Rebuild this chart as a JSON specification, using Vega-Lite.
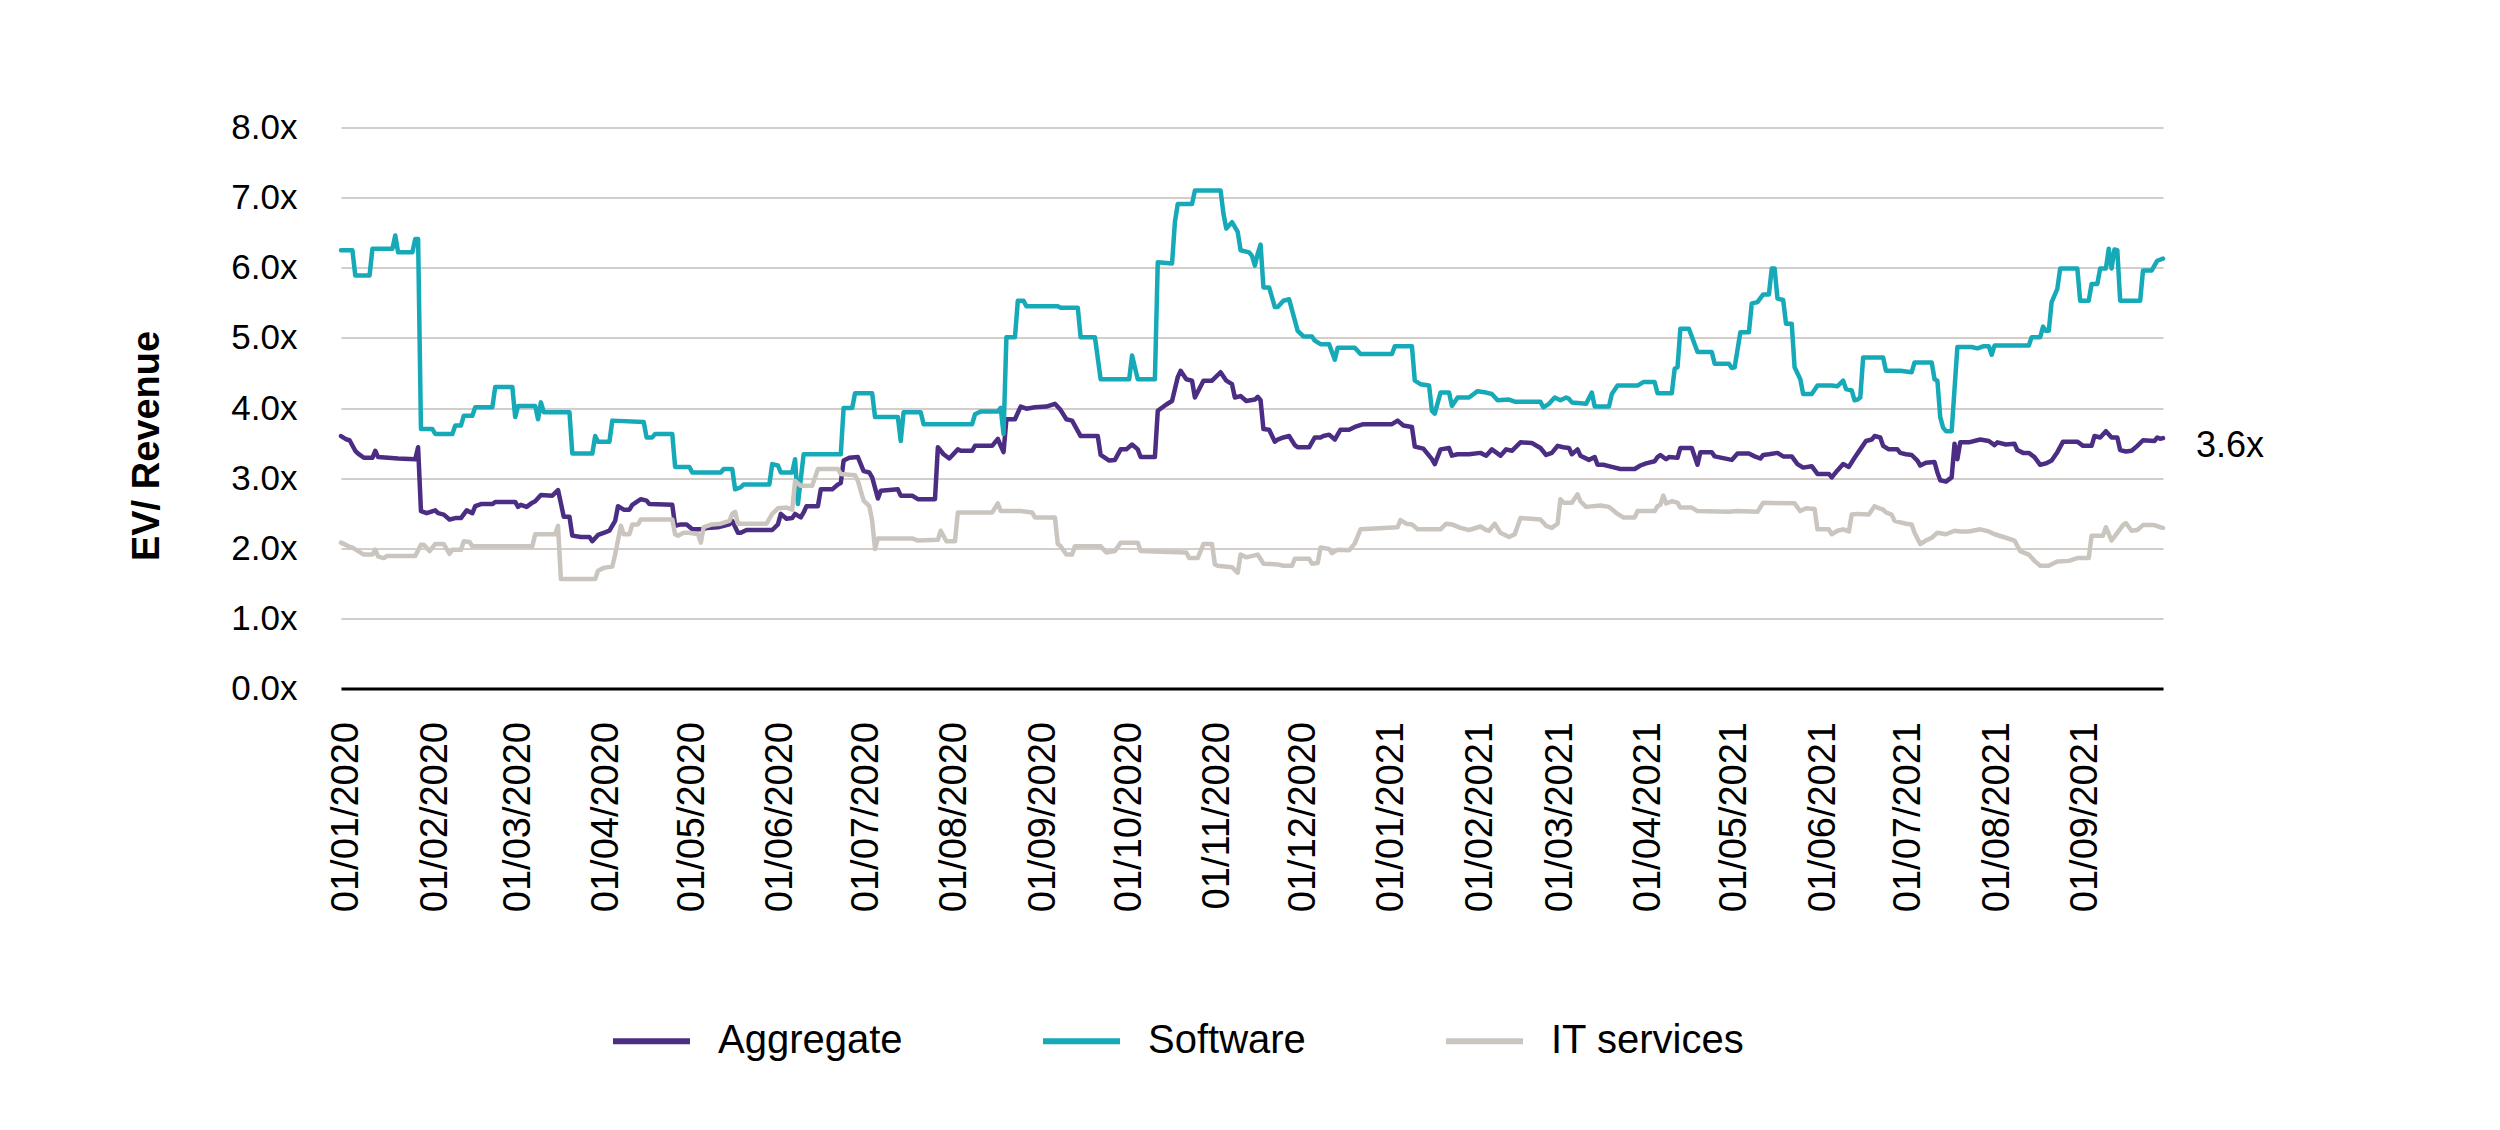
{
  "$schema": "https://vega.github.io/schema/vega-lite/v6.json",
  "width": 1822,
  "height": 561,
  "autosize": {"type": "none"},
  "padding": {"left": 341, "top": 127.5, "right": 337, "bottom": 441.5},
  "background": "white",
  "config": {"view": {"stroke": null}, "font": "Liberation Sans"},
  "datasets": {
    "series": [
      {"series":"Aggregate","d":"2019-12-30","v":3.60},{"series":"Aggregate","d":"2020-01-01","v":3.55},{"series":"Aggregate","d":"2020-01-02","v":3.54},{"series":"Aggregate","d":"2020-01-04","v":3.39},{"series":"Aggregate","d":"2020-01-05","v":3.35},{"series":"Aggregate","d":"2020-01-07","v":3.29},{"series":"Aggregate","d":"2020-01-10","v":3.29},{"series":"Aggregate","d":"2020-01-11","v":3.39},{"series":"Aggregate","d":"2020-01-12","v":3.30},{"series":"Aggregate","d":"2020-01-19","v":3.28},{"series":"Aggregate","d":"2020-01-25","v":3.27},{"series":"Aggregate","d":"2020-01-26","v":3.44},{"series":"Aggregate","d":"2020-01-27","v":2.53},{"series":"Aggregate","d":"2020-01-29","v":2.50},{"series":"Aggregate","d":"2020-02-01","v":2.54},{"series":"Aggregate","d":"2020-02-02","v":2.50},{"series":"Aggregate","d":"2020-02-04","v":2.48},{"series":"Aggregate","d":"2020-02-06","v":2.41},{"series":"Aggregate","d":"2020-02-08","v":2.43},{"series":"Aggregate","d":"2020-02-10","v":2.43},{"series":"Aggregate","d":"2020-02-12","v":2.54},{"series":"Aggregate","d":"2020-02-14","v":2.50},{"series":"Aggregate","d":"2020-02-15","v":2.60},{"series":"Aggregate","d":"2020-02-17","v":2.63},{"series":"Aggregate","d":"2020-02-21","v":2.63},{"series":"Aggregate","d":"2020-02-22","v":2.66},{"series":"Aggregate","d":"2020-02-29","v":2.66},{"series":"Aggregate","d":"2020-03-01","v":2.59},{"series":"Aggregate","d":"2020-03-02","v":2.62},{"series":"Aggregate","d":"2020-03-04","v":2.59},{"series":"Aggregate","d":"2020-03-06","v":2.65},{"series":"Aggregate","d":"2020-03-07","v":2.67},{"series":"Aggregate","d":"2020-03-09","v":2.76},{"series":"Aggregate","d":"2020-03-13","v":2.75},{"series":"Aggregate","d":"2020-03-15","v":2.83},{"series":"Aggregate","d":"2020-03-17","v":2.45},{"series":"Aggregate","d":"2020-03-19","v":2.45},{"series":"Aggregate","d":"2020-03-20","v":2.18},{"series":"Aggregate","d":"2020-03-23","v":2.16},{"series":"Aggregate","d":"2020-03-26","v":2.16},{"series":"Aggregate","d":"2020-03-27","v":2.10},{"series":"Aggregate","d":"2020-03-29","v":2.19},{"series":"Aggregate","d":"2020-03-31","v":2.22},{"series":"Aggregate","d":"2020-04-02","v":2.25},{"series":"Aggregate","d":"2020-04-04","v":2.39},{"series":"Aggregate","d":"2020-04-05","v":2.60},{"series":"Aggregate","d":"2020-04-07","v":2.55},{"series":"Aggregate","d":"2020-04-09","v":2.55},{"series":"Aggregate","d":"2020-04-10","v":2.62},{"series":"Aggregate","d":"2020-04-13","v":2.70},{"series":"Aggregate","d":"2020-04-15","v":2.68},{"series":"Aggregate","d":"2020-04-16","v":2.63},{"series":"Aggregate","d":"2020-04-24","v":2.62},{"series":"Aggregate","d":"2020-04-25","v":2.32},{"series":"Aggregate","d":"2020-04-27","v":2.34},{"series":"Aggregate","d":"2020-04-29","v":2.34},{"series":"Aggregate","d":"2020-05-01","v":2.27},{"series":"Aggregate","d":"2020-05-05","v":2.27},{"series":"Aggregate","d":"2020-05-06","v":2.29},{"series":"Aggregate","d":"2020-05-10","v":2.30},{"series":"Aggregate","d":"2020-05-12","v":2.32},{"series":"Aggregate","d":"2020-05-14","v":2.34},{"series":"Aggregate","d":"2020-05-15","v":2.39},{"series":"Aggregate","d":"2020-05-17","v":2.22},{"series":"Aggregate","d":"2020-05-18","v":2.22},{"series":"Aggregate","d":"2020-05-20","v":2.26},{"series":"Aggregate","d":"2020-05-29","v":2.26},{"series":"Aggregate","d":"2020-05-31","v":2.34},{"series":"Aggregate","d":"2020-06-01","v":2.49},{"series":"Aggregate","d":"2020-06-03","v":2.42},{"series":"Aggregate","d":"2020-06-05","v":2.43},{"series":"Aggregate","d":"2020-06-06","v":2.49},{"series":"Aggregate","d":"2020-06-08","v":2.44},{"series":"Aggregate","d":"2020-06-09","v":2.51},{"series":"Aggregate","d":"2020-06-10","v":2.60},{"series":"Aggregate","d":"2020-06-14","v":2.60},{"series":"Aggregate","d":"2020-06-15","v":2.84},{"series":"Aggregate","d":"2020-06-19","v":2.84},{"series":"Aggregate","d":"2020-06-21","v":2.91},{"series":"Aggregate","d":"2020-06-22","v":2.93},{"series":"Aggregate","d":"2020-06-23","v":3.25},{"series":"Aggregate","d":"2020-06-25","v":3.29},{"series":"Aggregate","d":"2020-06-28","v":3.30},{"series":"Aggregate","d":"2020-06-30","v":3.10},{"series":"Aggregate","d":"2020-07-02","v":3.08},{"series":"Aggregate","d":"2020-07-03","v":3.01},{"series":"Aggregate","d":"2020-07-05","v":2.71},{"series":"Aggregate","d":"2020-07-06","v":2.82},{"series":"Aggregate","d":"2020-07-12","v":2.84},{"series":"Aggregate","d":"2020-07-13","v":2.75},{"series":"Aggregate","d":"2020-07-17","v":2.75},{"series":"Aggregate","d":"2020-07-19","v":2.70},{"series":"Aggregate","d":"2020-07-25","v":2.70},{"series":"Aggregate","d":"2020-07-26","v":3.44},{"series":"Aggregate","d":"2020-07-28","v":3.34},{"series":"Aggregate","d":"2020-07-30","v":3.28},{"series":"Aggregate","d":"2020-08-02","v":3.41},{"series":"Aggregate","d":"2020-08-03","v":3.39},{"series":"Aggregate","d":"2020-08-07","v":3.39},{"series":"Aggregate","d":"2020-08-08","v":3.46},{"series":"Aggregate","d":"2020-08-14","v":3.46},{"series":"Aggregate","d":"2020-08-16","v":3.56},{"series":"Aggregate","d":"2020-08-17","v":3.46},{"series":"Aggregate","d":"2020-08-18","v":3.37},{"series":"Aggregate","d":"2020-08-19","v":3.84},{"series":"Aggregate","d":"2020-08-22","v":3.84},{"series":"Aggregate","d":"2020-08-24","v":4.02},{"series":"Aggregate","d":"2020-08-26","v":3.99},{"series":"Aggregate","d":"2020-08-29","v":4.01},{"series":"Aggregate","d":"2020-09-02","v":4.02},{"series":"Aggregate","d":"2020-09-05","v":4.06},{"series":"Aggregate","d":"2020-09-07","v":3.97},{"series":"Aggregate","d":"2020-09-09","v":3.84},{"series":"Aggregate","d":"2020-09-11","v":3.82},{"series":"Aggregate","d":"2020-09-14","v":3.60},{"series":"Aggregate","d":"2020-09-20","v":3.60},{"series":"Aggregate","d":"2020-09-21","v":3.33},{"series":"Aggregate","d":"2020-09-24","v":3.25},{"series":"Aggregate","d":"2020-09-26","v":3.26},{"series":"Aggregate","d":"2020-09-28","v":3.41},{"series":"Aggregate","d":"2020-09-30","v":3.41},{"series":"Aggregate","d":"2020-10-02","v":3.48},{"series":"Aggregate","d":"2020-10-04","v":3.41},{"series":"Aggregate","d":"2020-10-05","v":3.30},{"series":"Aggregate","d":"2020-10-10","v":3.30},{"series":"Aggregate","d":"2020-10-11","v":3.96},{"series":"Aggregate","d":"2020-10-14","v":4.05},{"series":"Aggregate","d":"2020-10-16","v":4.10},{"series":"Aggregate","d":"2020-10-18","v":4.44},{"series":"Aggregate","d":"2020-10-19","v":4.53},{"series":"Aggregate","d":"2020-10-21","v":4.41},{"series":"Aggregate","d":"2020-10-23","v":4.39},{"series":"Aggregate","d":"2020-10-24","v":4.15},{"series":"Aggregate","d":"2020-10-27","v":4.39},{"series":"Aggregate","d":"2020-10-30","v":4.39},{"series":"Aggregate","d":"2020-11-02","v":4.51},{"series":"Aggregate","d":"2020-11-04","v":4.39},{"series":"Aggregate","d":"2020-11-06","v":4.34},{"series":"Aggregate","d":"2020-11-07","v":4.15},{"series":"Aggregate","d":"2020-11-09","v":4.17},{"series":"Aggregate","d":"2020-11-11","v":4.10},{"series":"Aggregate","d":"2020-11-14","v":4.12},{"series":"Aggregate","d":"2020-11-15","v":4.16},{"series":"Aggregate","d":"2020-11-16","v":4.11},{"series":"Aggregate","d":"2020-11-17","v":3.70},{"series":"Aggregate","d":"2020-11-19","v":3.69},{"series":"Aggregate","d":"2020-11-21","v":3.52},{"series":"Aggregate","d":"2020-11-22","v":3.55},{"series":"Aggregate","d":"2020-11-24","v":3.58},{"series":"Aggregate","d":"2020-11-26","v":3.60},{"series":"Aggregate","d":"2020-11-28","v":3.47},{"series":"Aggregate","d":"2020-11-29","v":3.44},{"series":"Aggregate","d":"2020-12-03","v":3.44},{"series":"Aggregate","d":"2020-12-05","v":3.58},{"series":"Aggregate","d":"2020-12-07","v":3.58},{"series":"Aggregate","d":"2020-12-08","v":3.60},{"series":"Aggregate","d":"2020-12-10","v":3.62},{"series":"Aggregate","d":"2020-12-12","v":3.55},{"series":"Aggregate","d":"2020-12-14","v":3.69},{"series":"Aggregate","d":"2020-12-17","v":3.69},{"series":"Aggregate","d":"2020-12-19","v":3.73},{"series":"Aggregate","d":"2020-12-22","v":3.77},{"series":"Aggregate","d":"2021-01-01","v":3.77},{"series":"Aggregate","d":"2021-01-03","v":3.82},{"series":"Aggregate","d":"2021-01-05","v":3.75},{"series":"Aggregate","d":"2021-01-08","v":3.73},{"series":"Aggregate","d":"2021-01-09","v":3.45},{"series":"Aggregate","d":"2021-01-12","v":3.42},{"series":"Aggregate","d":"2021-01-15","v":3.27},{"series":"Aggregate","d":"2021-01-16","v":3.20},{"series":"Aggregate","d":"2021-01-18","v":3.41},{"series":"Aggregate","d":"2021-01-21","v":3.43},{"series":"Aggregate","d":"2021-01-22","v":3.32},{"series":"Aggregate","d":"2021-01-24","v":3.34},{"series":"Aggregate","d":"2021-01-28","v":3.34},{"series":"Aggregate","d":"2021-02-01","v":3.36},{"series":"Aggregate","d":"2021-02-03","v":3.32},{"series":"Aggregate","d":"2021-02-05","v":3.41},{"series":"Aggregate","d":"2021-02-08","v":3.32},{"series":"Aggregate","d":"2021-02-10","v":3.41},{"series":"Aggregate","d":"2021-02-12","v":3.39},{"series":"Aggregate","d":"2021-02-15","v":3.51},{"series":"Aggregate","d":"2021-02-19","v":3.50},{"series":"Aggregate","d":"2021-02-22","v":3.43},{"series":"Aggregate","d":"2021-02-24","v":3.33},{"series":"Aggregate","d":"2021-02-26","v":3.36},{"series":"Aggregate","d":"2021-02-28","v":3.46},{"series":"Aggregate","d":"2021-03-02","v":3.44},{"series":"Aggregate","d":"2021-03-04","v":3.43},{"series":"Aggregate","d":"2021-03-05","v":3.34},{"series":"Aggregate","d":"2021-03-07","v":3.41},{"series":"Aggregate","d":"2021-03-08","v":3.32},{"series":"Aggregate","d":"2021-03-11","v":3.26},{"series":"Aggregate","d":"2021-03-13","v":3.30},{"series":"Aggregate","d":"2021-03-14","v":3.19},{"series":"Aggregate","d":"2021-03-16","v":3.19},{"series":"Aggregate","d":"2021-03-19","v":3.16},{"series":"Aggregate","d":"2021-03-22","v":3.13},{"series":"Aggregate","d":"2021-03-27","v":3.13},{"series":"Aggregate","d":"2021-03-29","v":3.18},{"series":"Aggregate","d":"2021-03-31","v":3.21},{"series":"Aggregate","d":"2021-04-03","v":3.24},{"series":"Aggregate","d":"2021-04-04","v":3.30},{"series":"Aggregate","d":"2021-04-05","v":3.33},{"series":"Aggregate","d":"2021-04-07","v":3.27},{"series":"Aggregate","d":"2021-04-08","v":3.30},{"series":"Aggregate","d":"2021-04-11","v":3.29},{"series":"Aggregate","d":"2021-04-12","v":3.43},{"series":"Aggregate","d":"2021-04-16","v":3.43},{"series":"Aggregate","d":"2021-04-18","v":3.19},{"series":"Aggregate","d":"2021-04-19","v":3.37},{"series":"Aggregate","d":"2021-04-23","v":3.37},{"series":"Aggregate","d":"2021-04-24","v":3.31},{"series":"Aggregate","d":"2021-04-30","v":3.26},{"series":"Aggregate","d":"2021-05-02","v":3.35},{"series":"Aggregate","d":"2021-05-06","v":3.35},{"series":"Aggregate","d":"2021-05-08","v":3.31},{"series":"Aggregate","d":"2021-05-10","v":3.28},{"series":"Aggregate","d":"2021-05-11","v":3.33},{"series":"Aggregate","d":"2021-05-13","v":3.34},{"series":"Aggregate","d":"2021-05-16","v":3.36},{"series":"Aggregate","d":"2021-05-18","v":3.31},{"series":"Aggregate","d":"2021-05-21","v":3.31},{"series":"Aggregate","d":"2021-05-23","v":3.20},{"series":"Aggregate","d":"2021-05-25","v":3.15},{"series":"Aggregate","d":"2021-05-28","v":3.17},{"series":"Aggregate","d":"2021-05-30","v":3.06},{"series":"Aggregate","d":"2021-06-03","v":3.06},{"series":"Aggregate","d":"2021-06-04","v":3.01},{"series":"Aggregate","d":"2021-06-06","v":3.11},{"series":"Aggregate","d":"2021-06-08","v":3.20},{"series":"Aggregate","d":"2021-06-10","v":3.16},{"series":"Aggregate","d":"2021-06-12","v":3.29},{"series":"Aggregate","d":"2021-06-14","v":3.41},{"series":"Aggregate","d":"2021-06-16","v":3.53},{"series":"Aggregate","d":"2021-06-18","v":3.55},{"series":"Aggregate","d":"2021-06-19","v":3.60},{"series":"Aggregate","d":"2021-06-21","v":3.58},{"series":"Aggregate","d":"2021-06-22","v":3.46},{"series":"Aggregate","d":"2021-06-24","v":3.41},{"series":"Aggregate","d":"2021-06-27","v":3.41},{"series":"Aggregate","d":"2021-06-28","v":3.36},{"series":"Aggregate","d":"2021-06-30","v":3.34},{"series":"Aggregate","d":"2021-07-02","v":3.33},{"series":"Aggregate","d":"2021-07-04","v":3.25},{"series":"Aggregate","d":"2021-07-05","v":3.18},{"series":"Aggregate","d":"2021-07-07","v":3.22},{"series":"Aggregate","d":"2021-07-10","v":3.23},{"series":"Aggregate","d":"2021-07-11","v":3.08},{"series":"Aggregate","d":"2021-07-12","v":2.97},{"series":"Aggregate","d":"2021-07-14","v":2.95},{"series":"Aggregate","d":"2021-07-16","v":3.01},{"series":"Aggregate","d":"2021-07-17","v":3.49},{"series":"Aggregate","d":"2021-07-18","v":3.27},{"series":"Aggregate","d":"2021-07-19","v":3.51},{"series":"Aggregate","d":"2021-07-22","v":3.51},{"series":"Aggregate","d":"2021-07-26","v":3.55},{"series":"Aggregate","d":"2021-07-29","v":3.53},{"series":"Aggregate","d":"2021-07-31","v":3.47},{"series":"Aggregate","d":"2021-08-01","v":3.51},{"series":"Aggregate","d":"2021-08-04","v":3.48},{"series":"Aggregate","d":"2021-08-07","v":3.49},{"series":"Aggregate","d":"2021-08-08","v":3.40},{"series":"Aggregate","d":"2021-08-10","v":3.36},{"series":"Aggregate","d":"2021-08-12","v":3.36},{"series":"Aggregate","d":"2021-08-14","v":3.30},{"series":"Aggregate","d":"2021-08-16","v":3.19},{"series":"Aggregate","d":"2021-08-18","v":3.21},{"series":"Aggregate","d":"2021-08-20","v":3.25},{"series":"Aggregate","d":"2021-08-22","v":3.37},{"series":"Aggregate","d":"2021-08-24","v":3.52},{"series":"Aggregate","d":"2021-08-29","v":3.52},{"series":"Aggregate","d":"2021-08-31","v":3.46},{"series":"Aggregate","d":"2021-09-03","v":3.46},{"series":"Aggregate","d":"2021-09-04","v":3.60},{"series":"Aggregate","d":"2021-09-06","v":3.58},{"series":"Aggregate","d":"2021-09-08","v":3.67},{"series":"Aggregate","d":"2021-09-10","v":3.58},{"series":"Aggregate","d":"2021-09-12","v":3.58},{"series":"Aggregate","d":"2021-09-13","v":3.40},{"series":"Aggregate","d":"2021-09-15","v":3.38},{"series":"Aggregate","d":"2021-09-17","v":3.39},{"series":"Aggregate","d":"2021-09-19","v":3.46},{"series":"Aggregate","d":"2021-09-21","v":3.54},{"series":"Aggregate","d":"2021-09-25","v":3.53},{"series":"Aggregate","d":"2021-09-26","v":3.58},{"series":"Aggregate","d":"2021-09-27","v":3.56},{"series":"Aggregate","d":"2021-09-28","v":3.57},

      {"series":"Software","d":"2019-12-30","v":6.25},{"series":"Software","d":"2020-01-03","v":6.25},{"series":"Software","d":"2020-01-04","v":5.89},{"series":"Software","d":"2020-01-09","v":5.89},{"series":"Software","d":"2020-01-10","v":6.27},{"series":"Software","d":"2020-01-17","v":6.27},{"series":"Software","d":"2020-01-18","v":6.46},{"series":"Software","d":"2020-01-19","v":6.22},{"series":"Software","d":"2020-01-24","v":6.22},{"series":"Software","d":"2020-01-25","v":6.41},{"series":"Software","d":"2020-01-26","v":6.41},{"series":"Software","d":"2020-01-27","v":3.70},{"series":"Software","d":"2020-01-31","v":3.70},{"series":"Software","d":"2020-02-01","v":3.63},{"series":"Software","d":"2020-02-07","v":3.63},{"series":"Software","d":"2020-02-08","v":3.75},{"series":"Software","d":"2020-02-10","v":3.75},{"series":"Software","d":"2020-02-11","v":3.89},{"series":"Software","d":"2020-02-14","v":3.89},{"series":"Software","d":"2020-02-15","v":4.01},{"series":"Software","d":"2020-02-21","v":4.01},{"series":"Software","d":"2020-02-22","v":4.30},{"series":"Software","d":"2020-02-28","v":4.30},{"series":"Software","d":"2020-02-29","v":3.87},{"series":"Software","d":"2020-03-01","v":4.03},{"series":"Software","d":"2020-03-07","v":4.03},{"series":"Software","d":"2020-03-08","v":3.84},{"series":"Software","d":"2020-03-09","v":4.08},{"series":"Software","d":"2020-03-10","v":3.94},{"series":"Software","d":"2020-03-19","v":3.94},{"series":"Software","d":"2020-03-20","v":3.35},{"series":"Software","d":"2020-03-27","v":3.35},{"series":"Software","d":"2020-03-28","v":3.60},{"series":"Software","d":"2020-03-29","v":3.52},{"series":"Software","d":"2020-04-02","v":3.52},{"series":"Software","d":"2020-04-03","v":3.82},{"series":"Software","d":"2020-04-14","v":3.80},{"series":"Software","d":"2020-04-15","v":3.58},{"series":"Software","d":"2020-04-17","v":3.58},{"series":"Software","d":"2020-04-18","v":3.63},{"series":"Software","d":"2020-04-24","v":3.63},{"series":"Software","d":"2020-04-25","v":3.16},{"series":"Software","d":"2020-04-30","v":3.16},{"series":"Software","d":"2020-05-01","v":3.08},{"series":"Software","d":"2020-05-11","v":3.08},{"series":"Software","d":"2020-05-12","v":3.13},{"series":"Software","d":"2020-05-15","v":3.13},{"series":"Software","d":"2020-05-16","v":2.84},{"series":"Software","d":"2020-05-18","v":2.87},{"series":"Software","d":"2020-05-19","v":2.91},{"series":"Software","d":"2020-05-28","v":2.91},{"series":"Software","d":"2020-05-29","v":3.20},{"series":"Software","d":"2020-05-31","v":3.18},{"series":"Software","d":"2020-06-01","v":3.08},{"series":"Software","d":"2020-06-05","v":3.08},{"series":"Software","d":"2020-06-06","v":3.27},{"series":"Software","d":"2020-06-07","v":2.63},{"series":"Software","d":"2020-06-09","v":3.34},{"series":"Software","d":"2020-06-22","v":3.34},{"series":"Software","d":"2020-06-23","v":4.00},{"series":"Software","d":"2020-06-26","v":4.00},{"series":"Software","d":"2020-06-27","v":4.21},{"series":"Software","d":"2020-07-03","v":4.21},{"series":"Software","d":"2020-07-04","v":3.87},{"series":"Software","d":"2020-07-12","v":3.87},{"series":"Software","d":"2020-07-13","v":3.53},{"series":"Software","d":"2020-07-14","v":3.94},{"series":"Software","d":"2020-07-20","v":3.94},{"series":"Software","d":"2020-07-21","v":3.77},{"series":"Software","d":"2020-08-07","v":3.77},{"series":"Software","d":"2020-08-08","v":3.91},{"series":"Software","d":"2020-08-10","v":3.95},{"series":"Software","d":"2020-08-16","v":3.95},{"series":"Software","d":"2020-08-17","v":4.00},{"series":"Software","d":"2020-08-18","v":3.63},{"series":"Software","d":"2020-08-19","v":5.01},{"series":"Software","d":"2020-08-22","v":5.01},{"series":"Software","d":"2020-08-23","v":5.53},{"series":"Software","d":"2020-08-25","v":5.53},{"series":"Software","d":"2020-08-26","v":5.45},{"series":"Software","d":"2020-09-06","v":5.45},{"series":"Software","d":"2020-09-07","v":5.43},{"series":"Software","d":"2020-09-13","v":5.43},{"series":"Software","d":"2020-09-14","v":5.01},{"series":"Software","d":"2020-09-19","v":5.01},{"series":"Software","d":"2020-09-21","v":4.41},{"series":"Software","d":"2020-10-01","v":4.41},{"series":"Software","d":"2020-10-02","v":4.75},{"series":"Software","d":"2020-10-04","v":4.41},{"series":"Software","d":"2020-10-10","v":4.41},{"series":"Software","d":"2020-10-11","v":6.08},{"series":"Software","d":"2020-10-16","v":6.06},{"series":"Software","d":"2020-10-17","v":6.65},{"series":"Software","d":"2020-10-18","v":6.91},{"series":"Software","d":"2020-10-23","v":6.91},{"series":"Software","d":"2020-10-24","v":7.10},{"series":"Software","d":"2020-11-02","v":7.10},{"series":"Software","d":"2020-11-03","v":6.77},{"series":"Software","d":"2020-11-04","v":6.56},{"series":"Software","d":"2020-11-06","v":6.65},{"series":"Software","d":"2020-11-08","v":6.51},{"series":"Software","d":"2020-11-09","v":6.25},{"series":"Software","d":"2020-11-12","v":6.22},{"series":"Software","d":"2020-11-13","v":6.17},{"series":"Software","d":"2020-11-14","v":6.03},{"series":"Software","d":"2020-11-15","v":6.20},{"series":"Software","d":"2020-11-16","v":6.33},{"series":"Software","d":"2020-11-17","v":5.72},{"series":"Software","d":"2020-11-19","v":5.72},{"series":"Software","d":"2020-11-21","v":5.44},{"series":"Software","d":"2020-11-22","v":5.44},{"series":"Software","d":"2020-11-24","v":5.53},{"series":"Software","d":"2020-11-26","v":5.55},{"series":"Software","d":"2020-11-28","v":5.25},{"series":"Software","d":"2020-11-29","v":5.10},{"series":"Software","d":"2020-12-01","v":5.02},{"series":"Software","d":"2020-12-04","v":5.02},{"series":"Software","d":"2020-12-05","v":4.96},{"series":"Software","d":"2020-12-07","v":4.91},{"series":"Software","d":"2020-12-10","v":4.91},{"series":"Software","d":"2020-12-12","v":4.69},{"series":"Software","d":"2020-12-13","v":4.86},{"series":"Software","d":"2020-12-19","v":4.86},{"series":"Software","d":"2020-12-21","v":4.77},{"series":"Software","d":"2021-01-01","v":4.77},{"series":"Software","d":"2021-01-02","v":4.88},{"series":"Software","d":"2021-01-08","v":4.88},{"series":"Software","d":"2021-01-09","v":4.39},{"series":"Software","d":"2021-01-11","v":4.34},{"series":"Software","d":"2021-01-14","v":4.32},{"series":"Software","d":"2021-01-15","v":3.96},{"series":"Software","d":"2021-01-16","v":3.92},{"series":"Software","d":"2021-01-18","v":4.22},{"series":"Software","d":"2021-01-21","v":4.22},{"series":"Software","d":"2021-01-22","v":4.03},{"series":"Software","d":"2021-01-24","v":4.15},{"series":"Software","d":"2021-01-28","v":4.15},{"series":"Software","d":"2021-01-31","v":4.24},{"series":"Software","d":"2021-02-03","v":4.22},{"series":"Software","d":"2021-02-05","v":4.20},{"series":"Software","d":"2021-02-07","v":4.11},{"series":"Software","d":"2021-02-11","v":4.12},{"series":"Software","d":"2021-02-13","v":4.09},{"series":"Software","d":"2021-02-22","v":4.09},{"series":"Software","d":"2021-02-23","v":4.01},{"series":"Software","d":"2021-02-25","v":4.06},{"series":"Software","d":"2021-02-27","v":4.15},{"series":"Software","d":"2021-03-01","v":4.11},{"series":"Software","d":"2021-03-03","v":4.15},{"series":"Software","d":"2021-03-04","v":4.13},{"series":"Software","d":"2021-03-05","v":4.08},{"series":"Software","d":"2021-03-10","v":4.06},{"series":"Software","d":"2021-03-12","v":4.22},{"series":"Software","d":"2021-03-13","v":4.02},{"series":"Software","d":"2021-03-18","v":4.02},{"series":"Software","d":"2021-03-19","v":4.20},{"series":"Software","d":"2021-03-21","v":4.32},{"series":"Software","d":"2021-03-28","v":4.32},{"series":"Software","d":"2021-03-30","v":4.37},{"series":"Software","d":"2021-04-03","v":4.37},{"series":"Software","d":"2021-04-04","v":4.21},{"series":"Software","d":"2021-04-09","v":4.21},{"series":"Software","d":"2021-04-10","v":4.56},{"series":"Software","d":"2021-04-11","v":4.58},{"series":"Software","d":"2021-04-12","v":5.13},{"series":"Software","d":"2021-04-15","v":5.13},{"series":"Software","d":"2021-04-17","v":4.91},{"series":"Software","d":"2021-04-18","v":4.80},{"series":"Software","d":"2021-04-23","v":4.80},{"series":"Software","d":"2021-04-24","v":4.63},{"series":"Software","d":"2021-04-29","v":4.63},{"series":"Software","d":"2021-04-30","v":4.57},{"series":"Software","d":"2021-05-01","v":4.58},{"series":"Software","d":"2021-05-03","v":5.08},{"series":"Software","d":"2021-05-06","v":5.08},{"series":"Software","d":"2021-05-07","v":5.49},{"series":"Software","d":"2021-05-09","v":5.51},{"series":"Software","d":"2021-05-11","v":5.62},{"series":"Software","d":"2021-05-13","v":5.62},{"series":"Software","d":"2021-05-14","v":5.99},{"series":"Software","d":"2021-05-15","v":5.99},{"series":"Software","d":"2021-05-16","v":5.56},{"series":"Software","d":"2021-05-18","v":5.54},{"series":"Software","d":"2021-05-19","v":5.20},{"series":"Software","d":"2021-05-21","v":5.20},{"series":"Software","d":"2021-05-22","v":4.58},{"series":"Software","d":"2021-05-24","v":4.41},{"series":"Software","d":"2021-05-25","v":4.20},{"series":"Software","d":"2021-05-28","v":4.20},{"series":"Software","d":"2021-05-30","v":4.32},{"series":"Software","d":"2021-06-04","v":4.32},{"series":"Software","d":"2021-06-06","v":4.31},{"series":"Software","d":"2021-06-08","v":4.39},{"series":"Software","d":"2021-06-09","v":4.27},{"series":"Software","d":"2021-06-11","v":4.25},{"series":"Software","d":"2021-06-12","v":4.11},{"series":"Software","d":"2021-06-13","v":4.12},{"series":"Software","d":"2021-06-14","v":4.15},{"series":"Software","d":"2021-06-15","v":4.72},{"series":"Software","d":"2021-06-22","v":4.72},{"series":"Software","d":"2021-06-23","v":4.53},{"series":"Software","d":"2021-06-28","v":4.53},{"series":"Software","d":"2021-07-02","v":4.51},{"series":"Software","d":"2021-07-03","v":4.65},{"series":"Software","d":"2021-07-09","v":4.65},{"series":"Software","d":"2021-07-10","v":4.41},{"series":"Software","d":"2021-07-11","v":4.39},{"series":"Software","d":"2021-07-12","v":3.87},{"series":"Software","d":"2021-07-13","v":3.72},{"series":"Software","d":"2021-07-14","v":3.67},{"series":"Software","d":"2021-07-16","v":3.67},{"series":"Software","d":"2021-07-18","v":4.87},{"series":"Software","d":"2021-07-23","v":4.87},{"series":"Software","d":"2021-07-25","v":4.85},{"series":"Software","d":"2021-07-27","v":4.88},{"series":"Software","d":"2021-07-29","v":4.88},{"series":"Software","d":"2021-07-30","v":4.76},{"series":"Software","d":"2021-07-31","v":4.89},{"series":"Software","d":"2021-08-12","v":4.89},{"series":"Software","d":"2021-08-13","v":5.01},{"series":"Software","d":"2021-08-16","v":5.01},{"series":"Software","d":"2021-08-17","v":5.16},{"series":"Software","d":"2021-08-18","v":5.10},{"series":"Software","d":"2021-08-19","v":5.10},{"series":"Software","d":"2021-08-20","v":5.51},{"series":"Software","d":"2021-08-22","v":5.70},{"series":"Software","d":"2021-08-23","v":5.99},{"series":"Software","d":"2021-08-29","v":5.99},{"series":"Software","d":"2021-08-30","v":5.53},{"series":"Software","d":"2021-09-02","v":5.53},{"series":"Software","d":"2021-09-03","v":5.77},{"series":"Software","d":"2021-09-05","v":5.77},{"series":"Software","d":"2021-09-06","v":5.99},{"series":"Software","d":"2021-09-08","v":5.99},{"series":"Software","d":"2021-09-09","v":6.27},{"series":"Software","d":"2021-09-10","v":5.99},{"series":"Software","d":"2021-09-11","v":6.26},{"series":"Software","d":"2021-09-12","v":6.25},{"series":"Software","d":"2021-09-13","v":5.53},{"series":"Software","d":"2021-09-20","v":5.53},{"series":"Software","d":"2021-09-21","v":5.96},{"series":"Software","d":"2021-09-24","v":5.96},{"series":"Software","d":"2021-09-26","v":6.10},{"series":"Software","d":"2021-09-28","v":6.13},

      {"series":"IT services","d":"2019-12-30","v":2.08},{"series":"IT services","d":"2020-01-02","v":2.02},{"series":"IT services","d":"2020-01-03","v":2.01},{"series":"IT services","d":"2020-01-05","v":1.96},{"series":"IT services","d":"2020-01-07","v":1.91},{"series":"IT services","d":"2020-01-10","v":1.91},{"series":"IT services","d":"2020-01-11","v":1.98},{"series":"IT services","d":"2020-01-12","v":1.88},{"series":"IT services","d":"2020-01-14","v":1.86},{"series":"IT services","d":"2020-01-15","v":1.89},{"series":"IT services","d":"2020-01-25","v":1.89},{"series":"IT services","d":"2020-01-27","v":2.05},{"series":"IT services","d":"2020-01-28","v":2.05},{"series":"IT services","d":"2020-01-30","v":1.96},{"series":"IT services","d":"2020-02-01","v":2.06},{"series":"IT services","d":"2020-02-04","v":2.06},{"series":"IT services","d":"2020-02-06","v":1.92},{"series":"IT services","d":"2020-02-07","v":1.98},{"series":"IT services","d":"2020-02-10","v":1.98},{"series":"IT services","d":"2020-02-11","v":2.10},{"series":"IT services","d":"2020-02-13","v":2.09},{"series":"IT services","d":"2020-02-14","v":2.03},{"series":"IT services","d":"2020-03-06","v":2.03},{"series":"IT services","d":"2020-03-07","v":2.20},{"series":"IT services","d":"2020-03-14","v":2.20},{"series":"IT services","d":"2020-03-15","v":2.32},{"series":"IT services","d":"2020-03-16","v":1.56},{"series":"IT services","d":"2020-03-28","v":1.56},{"series":"IT services","d":"2020-03-29","v":1.68},{"series":"IT services","d":"2020-03-31","v":1.72},{"series":"IT services","d":"2020-04-03","v":1.74},{"series":"IT services","d":"2020-04-04","v":1.91},{"series":"IT services","d":"2020-04-06","v":2.32},{"series":"IT services","d":"2020-04-07","v":2.20},{"series":"IT services","d":"2020-04-09","v":2.20},{"series":"IT services","d":"2020-04-10","v":2.34},{"series":"IT services","d":"2020-04-12","v":2.34},{"series":"IT services","d":"2020-04-13","v":2.41},{"series":"IT services","d":"2020-04-24","v":2.41},{"series":"IT services","d":"2020-04-25","v":2.20},{"series":"IT services","d":"2020-04-26","v":2.18},{"series":"IT services","d":"2020-04-28","v":2.22},{"series":"IT services","d":"2020-04-30","v":2.22},{"series":"IT services","d":"2020-05-03","v":2.20},{"series":"IT services","d":"2020-05-04","v":2.08},{"series":"IT services","d":"2020-05-05","v":2.30},{"series":"IT services","d":"2020-05-08","v":2.34},{"series":"IT services","d":"2020-05-11","v":2.35},{"series":"IT services","d":"2020-05-14","v":2.39},{"series":"IT services","d":"2020-05-15","v":2.49},{"series":"IT services","d":"2020-05-16","v":2.52},{"series":"IT services","d":"2020-05-17","v":2.35},{"series":"IT services","d":"2020-05-27","v":2.35},{"series":"IT services","d":"2020-05-29","v":2.49},{"series":"IT services","d":"2020-05-31","v":2.57},{"series":"IT services","d":"2020-06-03","v":2.58},{"series":"IT services","d":"2020-06-05","v":2.55},{"series":"IT services","d":"2020-06-06","v":2.96},{"series":"IT services","d":"2020-06-08","v":2.89},{"series":"IT services","d":"2020-06-12","v":2.89},{"series":"IT services","d":"2020-06-14","v":3.13},{"series":"IT services","d":"2020-06-21","v":3.13},{"series":"IT services","d":"2020-06-22","v":3.06},{"series":"IT services","d":"2020-06-27","v":3.04},{"series":"IT services","d":"2020-06-28","v":2.96},{"series":"IT services","d":"2020-06-30","v":2.68},{"series":"IT services","d":"2020-07-02","v":2.60},{"series":"IT services","d":"2020-07-03","v":2.39},{"series":"IT services","d":"2020-07-04","v":1.99},{"series":"IT services","d":"2020-07-05","v":2.14},{"series":"IT services","d":"2020-07-17","v":2.14},{"series":"IT services","d":"2020-07-19","v":2.11},{"series":"IT services","d":"2020-07-26","v":2.12},{"series":"IT services","d":"2020-07-27","v":2.25},{"series":"IT services","d":"2020-07-29","v":2.10},{"series":"IT services","d":"2020-08-01","v":2.10},{"series":"IT services","d":"2020-08-02","v":2.51},{"series":"IT services","d":"2020-08-14","v":2.51},{"series":"IT services","d":"2020-08-16","v":2.64},{"series":"IT services","d":"2020-08-17","v":2.53},{"series":"IT services","d":"2020-08-24","v":2.53},{"series":"IT services","d":"2020-08-28","v":2.51},{"series":"IT services","d":"2020-08-29","v":2.44},{"series":"IT services","d":"2020-09-05","v":2.44},{"series":"IT services","d":"2020-09-06","v":2.06},{"series":"IT services","d":"2020-09-07","v":2.03},{"series":"IT services","d":"2020-09-09","v":1.91},{"series":"IT services","d":"2020-09-11","v":1.91},{"series":"IT services","d":"2020-09-12","v":2.03},{"series":"IT services","d":"2020-09-21","v":2.03},{"series":"IT services","d":"2020-09-23","v":1.94},{"series":"IT services","d":"2020-09-26","v":1.96},{"series":"IT services","d":"2020-09-28","v":2.08},{"series":"IT services","d":"2020-10-04","v":2.08},{"series":"IT services","d":"2020-10-05","v":1.96},{"series":"IT services","d":"2020-10-12","v":1.95},{"series":"IT services","d":"2020-10-21","v":1.94},{"series":"IT services","d":"2020-10-22","v":1.86},{"series":"IT services","d":"2020-10-25","v":1.86},{"series":"IT services","d":"2020-10-27","v":2.06},{"series":"IT services","d":"2020-10-30","v":2.06},{"series":"IT services","d":"2020-10-31","v":1.77},{"series":"IT services","d":"2020-11-01","v":1.75},{"series":"IT services","d":"2020-11-06","v":1.73},{"series":"IT services","d":"2020-11-08","v":1.65},{"series":"IT services","d":"2020-11-09","v":1.91},{"series":"IT services","d":"2020-11-11","v":1.87},{"series":"IT services","d":"2020-11-15","v":1.91},{"series":"IT services","d":"2020-11-17","v":1.78},{"series":"IT services","d":"2020-11-22","v":1.77},{"series":"IT services","d":"2020-11-24","v":1.75},{"series":"IT services","d":"2020-11-27","v":1.75},{"series":"IT services","d":"2020-11-28","v":1.85},{"series":"IT services","d":"2020-12-03","v":1.85},{"series":"IT services","d":"2020-12-04","v":1.78},{"series":"IT services","d":"2020-12-06","v":1.79},{"series":"IT services","d":"2020-12-07","v":2.01},{"series":"IT services","d":"2020-12-10","v":1.99},{"series":"IT services","d":"2020-12-11","v":1.93},{"series":"IT services","d":"2020-12-13","v":1.98},{"series":"IT services","d":"2020-12-17","v":1.97},{"series":"IT services","d":"2020-12-19","v":2.07},{"series":"IT services","d":"2020-12-21","v":2.27},{"series":"IT services","d":"2021-01-03","v":2.30},{"series":"IT services","d":"2021-01-04","v":2.40},{"series":"IT services","d":"2021-01-06","v":2.35},{"series":"IT services","d":"2021-01-08","v":2.34},{"series":"IT services","d":"2021-01-10","v":2.27},{"series":"IT services","d":"2021-01-18","v":2.27},{"series":"IT services","d":"2021-01-20","v":2.35},{"series":"IT services","d":"2021-01-22","v":2.34},{"series":"IT services","d":"2021-01-25","v":2.29},{"series":"IT services","d":"2021-01-28","v":2.26},{"series":"IT services","d":"2021-02-01","v":2.31},{"series":"IT services","d":"2021-02-03","v":2.26},{"series":"IT services","d":"2021-02-04","v":2.25},{"series":"IT services","d":"2021-02-06","v":2.35},{"series":"IT services","d":"2021-02-08","v":2.22},{"series":"IT services","d":"2021-02-11","v":2.16},{"series":"IT services","d":"2021-02-13","v":2.20},{"series":"IT services","d":"2021-02-15","v":2.43},{"series":"IT services","d":"2021-02-22","v":2.41},{"series":"IT services","d":"2021-02-24","v":2.32},{"series":"IT services","d":"2021-02-26","v":2.29},{"series":"IT services","d":"2021-02-27","v":2.32},{"series":"IT services","d":"2021-02-28","v":2.35},{"series":"IT services","d":"2021-03-01","v":2.70},{"series":"IT services","d":"2021-03-02","v":2.65},{"series":"IT services","d":"2021-03-05","v":2.65},{"series":"IT services","d":"2021-03-07","v":2.77},{"series":"IT services","d":"2021-03-08","v":2.67},{"series":"IT services","d":"2021-03-10","v":2.59},{"series":"IT services","d":"2021-03-15","v":2.61},{"series":"IT services","d":"2021-03-18","v":2.59},{"series":"IT services","d":"2021-03-21","v":2.49},{"series":"IT services","d":"2021-03-23","v":2.44},{"series":"IT services","d":"2021-03-27","v":2.44},{"series":"IT services","d":"2021-03-28","v":2.53},{"series":"IT services","d":"2021-04-03","v":2.53},{"series":"IT services","d":"2021-04-04","v":2.60},{"series":"IT services","d":"2021-04-05","v":2.62},{"series":"IT services","d":"2021-04-06","v":2.75},{"series":"IT services","d":"2021-04-07","v":2.64},{"series":"IT services","d":"2021-04-09","v":2.67},{"series":"IT services","d":"2021-04-11","v":2.65},{"series":"IT services","d":"2021-04-12","v":2.58},{"series":"IT services","d":"2021-04-16","v":2.58},{"series":"IT services","d":"2021-04-18","v":2.53},{"series":"IT services","d":"2021-04-29","v":2.52},{"series":"IT services","d":"2021-05-02","v":2.53},{"series":"IT services","d":"2021-05-09","v":2.52},{"series":"IT services","d":"2021-05-11","v":2.65},{"series":"IT services","d":"2021-05-20","v":2.64},{"series":"IT services","d":"2021-05-22","v":2.64},{"series":"IT services","d":"2021-05-24","v":2.53},{"series":"IT services","d":"2021-05-26","v":2.57},{"series":"IT services","d":"2021-05-29","v":2.56},{"series":"IT services","d":"2021-05-30","v":2.27},{"series":"IT services","d":"2021-06-03","v":2.27},{"series":"IT services","d":"2021-06-04","v":2.20},{"series":"IT services","d":"2021-06-06","v":2.25},{"series":"IT services","d":"2021-06-08","v":2.27},{"series":"IT services","d":"2021-06-10","v":2.24},{"series":"IT services","d":"2021-06-11","v":2.48},{"series":"IT services","d":"2021-06-13","v":2.49},{"series":"IT services","d":"2021-06-17","v":2.48},{"series":"IT services","d":"2021-06-19","v":2.60},{"series":"IT services","d":"2021-06-20","v":2.58},{"series":"IT services","d":"2021-06-22","v":2.55},{"series":"IT services","d":"2021-06-23","v":2.51},{"series":"IT services","d":"2021-06-25","v":2.48},{"series":"IT services","d":"2021-06-26","v":2.39},{"series":"IT services","d":"2021-06-30","v":2.35},{"series":"IT services","d":"2021-07-02","v":2.34},{"series":"IT services","d":"2021-07-03","v":2.22},{"series":"IT services","d":"2021-07-05","v":2.06},{"series":"IT services","d":"2021-07-07","v":2.11},{"series":"IT services","d":"2021-07-09","v":2.15},{"series":"IT services","d":"2021-07-11","v":2.22},{"series":"IT services","d":"2021-07-14","v":2.20},{"series":"IT services","d":"2021-07-17","v":2.25},{"series":"IT services","d":"2021-07-19","v":2.24},{"series":"IT services","d":"2021-07-22","v":2.24},{"series":"IT services","d":"2021-07-26","v":2.27},{"series":"IT services","d":"2021-07-29","v":2.24},{"series":"IT services","d":"2021-07-31","v":2.20},{"series":"IT services","d":"2021-08-04","v":2.15},{"series":"IT services","d":"2021-08-07","v":2.11},{"series":"IT services","d":"2021-08-09","v":1.96},{"series":"IT services","d":"2021-08-12","v":1.91},{"series":"IT services","d":"2021-08-14","v":1.82},{"series":"IT services","d":"2021-08-16","v":1.75},{"series":"IT services","d":"2021-08-19","v":1.75},{"series":"IT services","d":"2021-08-22","v":1.81},{"series":"IT services","d":"2021-08-26","v":1.82},{"series":"IT services","d":"2021-08-29","v":1.86},{"series":"IT services","d":"2021-09-02","v":1.86},{"series":"IT services","d":"2021-09-03","v":2.18},{"series":"IT services","d":"2021-09-07","v":2.18},{"series":"IT services","d":"2021-09-08","v":2.30},{"series":"IT services","d":"2021-09-10","v":2.11},{"series":"IT services","d":"2021-09-12","v":2.22},{"series":"IT services","d":"2021-09-14","v":2.33},{"series":"IT services","d":"2021-09-15","v":2.36},{"series":"IT services","d":"2021-09-17","v":2.25},{"series":"IT services","d":"2021-09-19","v":2.26},{"series":"IT services","d":"2021-09-21","v":2.33},{"series":"IT services","d":"2021-09-25","v":2.33},{"series":"IT services","d":"2021-09-27","v":2.30},{"series":"IT services","d":"2021-09-28","v":2.29}
    ],
    "endlabel": [{"d": "2021-09-28", "v": 3.57, "label": "3.6x"}]
  },
  "layer": [
    {
      "data": {"name": "series"},
      "mark": {"type": "line", "strokeWidth": 4.5, "strokeJoin": "round", "strokeCap": "round"},
      "encoding": {
        "x": {
          "field": "d", "type": "temporal",
          "scale": {"type": "utc", "domain": [{"year": 2019, "month": 12, "date": 30, "utc": true}, {"year": 2021, "month": 9, "date": 28, "utc": true}]},
          "axis": {
            "title": null,
            "values": [
              {"year": 2020, "month": 1, "date": 1, "utc": true}, {"year": 2020, "month": 2, "date": 1, "utc": true}, {"year": 2020, "month": 3, "date": 1, "utc": true}, {"year": 2020, "month": 4, "date": 1, "utc": true}, {"year": 2020, "month": 5, "date": 1, "utc": true}, {"year": 2020, "month": 6, "date": 1, "utc": true}, {"year": 2020, "month": 7, "date": 1, "utc": true}, {"year": 2020, "month": 8, "date": 1, "utc": true}, {"year": 2020, "month": 9, "date": 1, "utc": true}, {"year": 2020, "month": 10, "date": 1, "utc": true}, {"year": 2020, "month": 11, "date": 1, "utc": true}, {"year": 2020, "month": 12, "date": 1, "utc": true},
              {"year": 2021, "month": 1, "date": 1, "utc": true}, {"year": 2021, "month": 2, "date": 1, "utc": true}, {"year": 2021, "month": 3, "date": 1, "utc": true}, {"year": 2021, "month": 4, "date": 1, "utc": true}, {"year": 2021, "month": 5, "date": 1, "utc": true}, {"year": 2021, "month": 6, "date": 1, "utc": true}, {"year": 2021, "month": 7, "date": 1, "utc": true}, {"year": 2021, "month": 8, "date": 1, "utc": true}, {"year": 2021, "month": 9, "date": 1, "utc": true}
            ],
            "labelExpr": "utcFormat(datum.value, '%d/%m/%Y')",
            "labelAngle": -90,
            "labelFontSize": 38,
            "labelFont": "Liberation Sans",
            "labelColor": "#000000",
            "labelPadding": 33,
            "labelLimit": 500,
            "labelOverlap": false,
            "labelFlush": false,
            "ticks": false,
            "grid": false,
            "domainColor": "#000000",
            "domainWidth": 3
          }
        },
        "y": {
          "field": "v", "type": "quantitative",
          "scale": {"domain": [0, 8], "nice": false, "zero": true},
          "axis": {
            "title": "EV/ Revenue",
            "values": [0, 1, 2, 3, 4, 5, 6, 7, 8],
            "labelExpr": "format(datum.value, '.1f') + 'x'",
            "labelFontSize": 35,
            "labelFont": "Liberation Sans",
            "labelColor": "#000000",
            "labelPadding": 44,
            "ticks": false,
            "domain": false,
            "grid": true,
            "gridColor": "#D3CEC9",
            "gridWidth": 2,
            "titleFont": "Liberation Sans",
            "titleFontSize": 38,
            "titleFontWeight": "bold",
            "titleColor": "#000000",
            "titleX": -194,
            "titleY": 318,
            "titleAlign": "center",
            "titleBaseline": "middle",
            "titleAngle": -90
          }
        },
        "color": {
          "field": "series", "type": "nominal",
          "scale": {"domain": ["Aggregate", "Software", "IT services"], "range": ["#4B2D83", "#16A9B8", "#CBC5BF"]},
          "legend": {
            "orient": "none",
            "legendX": 269,
            "legendY": 872,
            "direction": "horizontal",
            "title": null,
            "symbolType": "stroke",
            "symbolSize": 5929,
            "symbolStrokeWidth": 6,
            "labelFontSize": 40,
            "labelFont": "Liberation Sans",
            "labelColor": "#000000",
            "labelOffset": 25,
            "columnPadding": 128,
            "labelLimit": 400
          }
        }
      }
    },
    {
      "data": {"name": "endlabel"},
      "mark": {"type": "text", "align": "left", "baseline": "middle", "dx": 33, "dy": 8, "fontSize": 36, "font": "Liberation Sans", "color": "#000000"},
      "encoding": {
        "x": {"field": "d", "type": "temporal"},
        "y": {"field": "v", "type": "quantitative"},
        "text": {"field": "label"}
      }
    }
  ]
}
